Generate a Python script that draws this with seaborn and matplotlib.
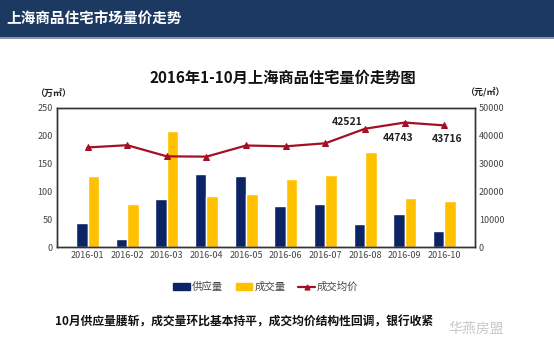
import numpy as np
import pandas as pd
import seaborn as sns
import matplotlib.pyplot as plt
from matplotlib.patches import Rectangle, Patch
from matplotlib.lines import Line2D

months = ['2016-01', '2016-02', '2016-03', '2016-04', '2016-05',
          '2016-06', '2016-07', '2016-08', '2016-09', '2016-10']
supply = [43, 15, 86, 131, 127, 73, 78, 42, 59, 29]
deal = [128, 77, 209, 92, 95, 122, 129, 170, 89, 83]
price = [35800, 36600, 32600, 32500, 36500, 36200, 37300, 42521, 44743, 43716]

sns.set_theme(style="white")
plt.rcParams['font.family'] = ['Noto Sans CJK SC', 'DejaVu Sans']

df = pd.DataFrame({'month': months * 2,
                   'value': supply + deal,
                   'kind': ['供应量'] * 10 + ['成交量'] * 10})

fig = plt.figure(figsize=(5.54, 3.55), dpi=100)
ax = fig.add_axes([0.103, 0.304, 0.754, 0.392])

# header bar
fig.patches.append(Rectangle((0, 1 - 37 / 355), 1, 37 / 355, transform=fig.transFigure,
                             facecolor='#1c3962', edgecolor='none', zorder=0))
fig.patches.append(Rectangle((0, 1 - 39 / 355), 1, 2 / 355, transform=fig.transFigure,
                             facecolor='#8796ad', edgecolor='none', zorder=0))
fig.text(0.012, 1 - 19 / 355, '上海商品住宅市场量价走势', color='white',
         fontsize=10.5, fontweight='bold', va='center', ha='left')

sns.barplot(data=df, x='month', y='value', hue='kind', ax=ax,
            palette=['#0c2466', '#ffc000'], width=0.58, saturation=1, legend=False)
ax.set_ylim(0, 250)
ax.set_yticks(range(0, 251, 50))
ax.set_xlabel('')
ax.set_ylabel('')
ax.tick_params(axis='both', labelsize=6.5, colors='#444444', length=0, pad=3)
for s in ax.spines.values():
    s.set_color('#333333')
    s.set_linewidth(1.0)

ax2 = ax.twinx()
sns.lineplot(x=np.arange(len(months)), y=price, ax=ax2, color='#a50f24',
             linewidth=1.6, marker='^', markersize=4.5, markeredgecolor='#a50f24')
ax2.set_ylim(0, 50000)
ax2.set_yticks(range(0, 50001, 10000))
ax2.tick_params(axis='y', labelsize=6.5, colors='#444444', length=0, pad=3)
for s in ax2.spines.values():
    s.set_color('#333333')
    s.set_linewidth(1.0)

# value labels
for i, dx, dy in [(7, -13, 5), (8, -5, -11), (9, 2, -10)]:
    ax2.annotate(f'{price[i]}', (i, price[i]), xytext=(dx, dy), textcoords='offset points',
                 ha='center', va='center', fontsize=7.5, fontweight='bold', color='#222222')

fig.text(0.51, 1 - 78 / 355, '2016年1-10月上海商品住宅量价走势图', ha='center', va='center',
         fontsize=11, fontweight='bold', color='#111111')
fig.text(0.095, 1 - 93 / 355, '（万㎡）', ha='center', va='center', fontsize=6.5,
         fontweight='bold', color='#222222')
fig.text(0.875, 1 - 93 / 355, '（元/㎡）', ha='center', va='center', fontsize=6.5,
         fontweight='bold', color='#222222')

handles = [Patch(color='#0c2466'), Patch(color='#ffc000'),
           Line2D([], [], color='#a50f24', marker='^', markersize=3.5, linewidth=1.6)]
fig.legend(handles, ['供应量', '成交量', '成交均价'], loc='center', ncol=3,
           bbox_to_anchor=(0.48, 1 - 287 / 355), frameon=False, fontsize=7.5,
           handlelength=1.6, handleheight=0.7, handletextpad=0.2, columnspacing=1.2,
           labelcolor='#444444')

fig.text(0.44, 1 - 322 / 355, '10月供应量腰斩，成交量环比基本持平，成交均价结构性回调，银行收紧',
         ha='center', va='center', fontsize=8.5, fontweight='bold', color='#111111')
fig.text(0.86, 1 - 329 / 355, '华燕房盟', ha='center', va='center', fontsize=10,
         color='#bbbbbb', alpha=0.8)

fig.savefig('out.png', dpi=100)
